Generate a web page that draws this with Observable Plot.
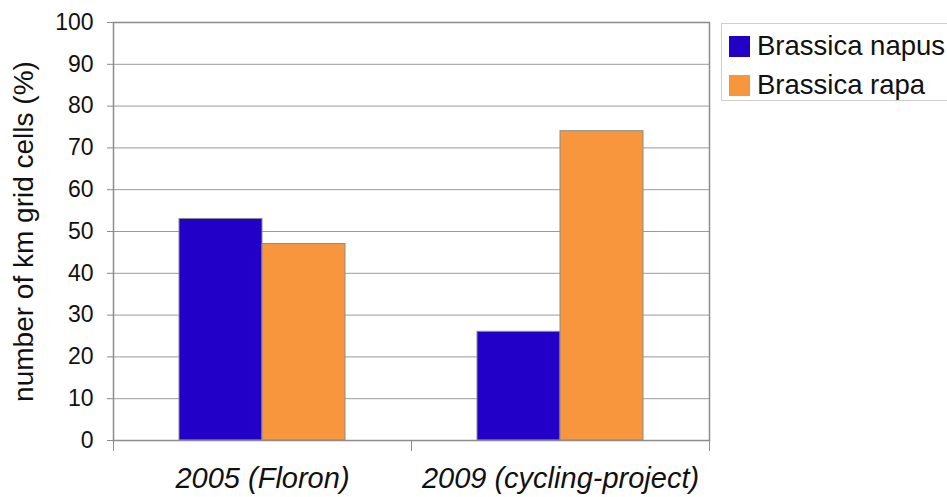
<!DOCTYPE html>
<html>
<head>
<meta charset="utf-8">
<script src="https://cdn.jsdelivr.net/npm/d3@7"></script>
<script src="https://cdn.jsdelivr.net/npm/@observablehq/plot@0.6"></script>
<style>
  html, body { margin: 0; padding: 0; background: #fff; overflow: hidden; }
  #wrap { position: relative; width: 947px; height: 497px; font-family: "Liberation Sans", Arial, sans-serif; }
  #wrap svg { font-family: "Liberation Sans", Arial, sans-serif; }
  g[aria-label="fx-axis tick label"] { font-style: italic; font-size: 29px; }
  g[aria-label="y-axis label"] { font-size: 28px; }
  #legend { position: absolute; left: 721px; top: 23px; width: 240px; height: 78px;
            border: 1px solid #cfcfcf; box-sizing: border-box; background: #fff; }
  .item { position: absolute; left: 7px; display: flex; align-items: center; font-size: 27.5px; color: #111; white-space: nowrap; }
  .sw { width: 21px; height: 21px; margin-right: 7px; }
</style>
</head>
<body>
<div id="wrap"></div>
<script>
const groups = ["2005 (Floron)", "2009 (cycling-project)"];
const species = ["Brassica napus", "Brassica rapa"];
const napusValues = [53, 26];
const rapaValues = [47, 74];
const colors = ["#2300c8", "#f7963c"];
const yTicks = [0, 10, 20, 30, 40, 50, 60, 70, 80, 90, 100];
const yLabel = "number of km grid cells (%)";

const data = [];
groups.forEach((g, i) => {
  data.push({group: g, species: species[0], value: napusValues[i]});
  data.push({group: g, species: species[1], value: rapaValues[i]});
});

const W = 947, H = 497, mT = 22, mB = 57, mL = 113, mR = 238;
const plotH = H - mT - mB;

function build(superOK) {
  const marks = [
    Plot.gridY(yTicks, {stroke: "#9a9a9a", strokeOpacity: 1, strokeWidth: 1}),
    Plot.barY(data, {fx: "group", x: "species", y: "value", fill: "species", stroke: "#8c8c8c", strokeWidth: 1}),
    Plot.frame({anchor: "left", insetTop: plotH, insetBottom: -10, stroke: "#8c8c8c"}),
    Plot.frame({anchor: "right", insetTop: plotH, insetBottom: -10, stroke: "#8c8c8c"}),
    superOK ? Plot.frame({facet: "super", stroke: "#8c8c8c", strokeWidth: 1.5}) : Plot.frame({stroke: "#8c8c8c", strokeWidth: 1.5}),
    Plot.axisY(yTicks, {tickSize: 6, tickPadding: 14, fontSize: 23, stroke: "#8c8c8c", label: yLabel,
      labelAnchor: "center", labelOffset: 100, labelArrow: "none", color: "#111"}),
    Plot.axisFx({anchor: "bottom", tickSize: 0, tickPadding: 27, fontSize: 29, fontStyle: "italic", label: null, color: "#111"})
  ];
  return Plot.plot({
    width: W, height: H,
    marginTop: mT, marginBottom: mB, marginLeft: mL, marginRight: mR,
    fx: {domain: groups, padding: 0, axis: null, label: null},
    x: {domain: species, paddingInner: 0, paddingOuter: 0.774, axis: null},
    y: {domain: [0, 100], axis: null},
    color: {domain: species, range: colors},
    style: {fontFamily: "Liberation Sans, Arial, sans-serif", color: "#111"},
    marks
  });
}

let chart;
try { chart = build(true); } catch (e) { chart = build(false); }
const wrap = document.getElementById("wrap");
wrap.appendChild(chart);

const legend = document.createElement("div");
legend.id = "legend";
species.forEach((s, i) => {
  const it = document.createElement("div");
  it.className = "item";
  it.style.top = (i === 0 ? 6 : 45) + "px";
  const sw = document.createElement("div");
  sw.className = "sw";
  sw.style.background = colors[i];
  const tx = document.createElement("span");
  tx.textContent = s;
  it.appendChild(sw); it.appendChild(tx);
  legend.appendChild(it);
});
wrap.appendChild(legend);
</script>
</body>
</html>
